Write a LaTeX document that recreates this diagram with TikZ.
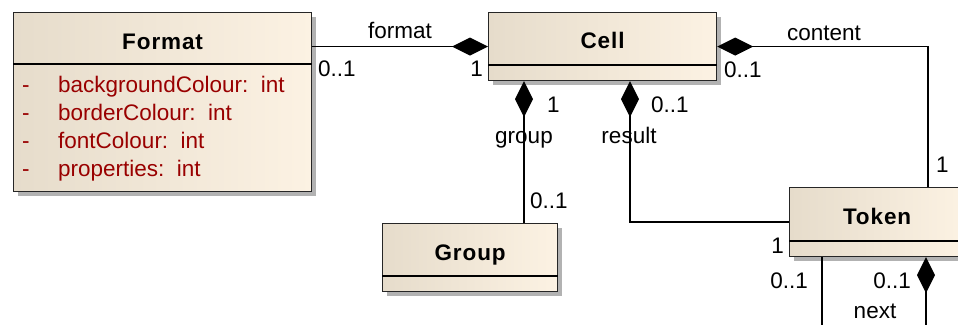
\documentclass[tikz,border=0pt]{standalone}
\usepackage{fontspec}
\setmainfont{Liberation Sans}
\usetikzlibrary{arrows.meta,shadows}
\definecolor{boxl}{HTML}{E6DCCB}
\definecolor{boxr}{HTML}{FCF2E3}
\definecolor{attrc}{HTML}{990000}
\tikzset{
 cls/.style={draw=black!85,line width=1.2pt,left color=boxl,right color=boxr,inner sep=0,anchor=north west,
  drop shadow={shadow xshift=4pt,shadow yshift=-4pt,fill=black!30,opacity=1}},
 cname/.style={font=\fontsize{22.5}{27}\selectfont\bfseries\addfontfeatures{LetterSpace=4},inner sep=0,anchor=base},
 lbl/.style={font=\fontsize{22.5}{27}\selectfont,inner sep=0},
 attr/.style={lbl,text=attrc,anchor=base west},
 assoc/.style={line width=1.6pt},
 comp/.style={assoc,{Diamond[length=36pt,width=18pt]}-}
}
\begin{document}
\begin{tikzpicture}[x=1pt,y=-1pt]
 \path[use as bounding box,clip] (0,0) rectangle (958,324);
 \fill[white] (0,0) rectangle (958,324);
 \node[cls,minimum width=298pt,minimum height=179pt] (fmt) at (13,12) {};
 \node[cls,minimum width=228pt,minimum height=68pt] (cell) at (488,12) {};
 \node[cls,minimum width=175pt,minimum height=68pt] (grp) at (382,223) {};
 \node[cls,minimum width=175pt,minimum height=69pt] (tok) at (789,187) {};
 \node[cname] (fmtname) at ([yshift=-37pt]fmt.north) {Format};
 \node[cname] (cellname) at ([yshift=-36pt]cell.north) {Cell};
 \node[cname] (grpname) at ([yshift=-37pt]grp.north) {Group};
 \node[cname] (tokname) at ([yshift=-37pt]tok.north) {Token};
 \draw[line width=1.6pt] ([yshift=-52pt]fmt.north west) -- ([yshift=-52pt]fmt.north east);
 \draw[line width=1.6pt] ([yshift=-53pt]cell.north west) -- ([yshift=-53pt]cell.north east);
 \draw[line width=1.6pt] ([yshift=-53pt]grp.north west) -- ([yshift=-53pt]grp.north east);
 \draw[line width=1.6pt] ([yshift=-54pt]tok.north west) -- ([yshift=-54pt]tok.north east);
 \foreach \a [count=\i] in {backgroundColour,borderColour,fontColour,properties} {
  \node[attr] (dash\i) at (22,64+28*\i) {-};
  \node[attr] (attr\i) at (58,64+28*\i) {\a:\ \ int};
 }
 \draw[comp] (cell.west) -- (cell.west -| fmt.east);
 \draw[comp] (cell.east) -| ([xshift=139pt]tok.north west);
 \draw[comp] ([xshift=36pt]cell.south west) -- ([xshift=36pt]cell.south west |- grp.north);
 \draw[comp] ([xshift=142pt]cell.south west) |- (tok.west);
 \coordinate (nexta) at (822,330);
 \coordinate (nextb) at (926,330);
 \draw[assoc] (tok.south -| nexta) -- (nexta);
 \draw[comp] (tok.south -| nextb) -- (nextb);
 \node[lbl,anchor=base] (lfmt) at (400,38) {format};
 \node[lbl,anchor=base west] (lfmtm) at (318,76) {0..1};
 \node[lbl,anchor=base east] (lcellm) at (483,76) {1};
 \node[lbl,anchor=base] (lcont) at (824,40) {content};
 \node[lbl,anchor=base west] (lcontm) at (724,77) {0..1};
 \node[lbl,anchor=base west] (lcontt) at (936,172) {1};
 \node[lbl,anchor=base west] (lgrpm) at (547,112) {1};
 \node[lbl,anchor=base west] (lresm) at (651,112) {0..1};
 \node[lbl,anchor=base] (lgrp) at (524,143) {group};
 \node[lbl,anchor=base] (lres) at (629,143) {result};
 \node[lbl,anchor=base west] (lgrpt) at (530,208) {0..1};
 \node[lbl,anchor=base east] (lrest) at (784,253) {1};
 \node[lbl,anchor=base east] (lnexta) at (808,288) {0..1};
 \node[lbl,anchor=base east] (lnextb) at (911,288) {0..1};
 \node[lbl,anchor=base] (lnext) at (875,318) {next};
\end{tikzpicture}
\end{document}
